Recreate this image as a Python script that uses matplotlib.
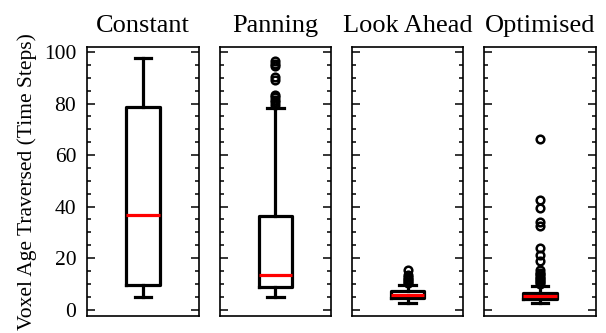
import numpy as np
import matplotlib.pyplot as plt
from matplotlib.ticker import MultipleLocator

plt.rcParams['font.family'] = ['Liberation Serif', 'DejaVu Serif']

# box summary per method: lower whisker, q1, median, q3, upper whisker
methods = ['Constant', 'Panning', 'Look Ahead', 'Optimised']
whis_lo = [5.0, 4.8, 2.7, 2.6]
q1 = [9.4, 8.6, 4.5, 4.1]
medians = [36.8, 13.6, 5.7, 5.2]
q3 = [78.6, 36.3, 7.1, 6.5]
whis_hi = [97.8, 78.4, 9.6, 9.3]

fliers = [
    [],
    [79.5, 80.5, 81.5, 82.5, 83.5, 89.0, 90.5, 94.5, 95.5, 96.5],
    [10.2, 10.8, 11.4, 12.0, 12.6, 13.5, 15.5],
    [10.0, 10.6, 11.2, 11.8, 12.4, 13.0, 13.7, 14.4, 15.5, 18.7,
     21.3, 23.9, 32.3, 34.2, 39.4, 42.6, 66.1],
]

fig, axes = plt.subplots(1, 4, figsize=(6.06, 3.33), dpi=100, sharey=True)
fig.subplots_adjust(left=0.144, right=0.983, bottom=0.051, top=0.859, wspace=0.19)

for i, ax in enumerate(axes):
    stats = [{
        'whislo': whis_lo[i], 'q1': q1[i], 'med': medians[i],
        'q3': q3[i], 'whishi': whis_hi[i], 'fliers': fliers[i],
    }]
    ax.bxp(stats, positions=[1], widths=0.3,
           boxprops=dict(color='black', linewidth=2.3),
           whiskerprops=dict(color='black', linewidth=2.3),
           capprops=dict(color='black', linewidth=2.3),
           medianprops=dict(color='red', linewidth=2.3),
           flierprops=dict(marker='o', markerfacecolor='none',
                           markeredgecolor='black', markersize=5.5,
                           markeredgewidth=1.8))
    ax.set_xlim(0.5, 1.5)
    ax.set_xticks([])
    ax.set_title(methods[i], fontsize=19, pad=11)
    ax.yaxis.set_major_locator(MultipleLocator(20))
    ax.yaxis.set_minor_locator(MultipleLocator(5))
    ax.tick_params(axis='y', which='both', direction='in', left=True, right=True,
                   labelsize=15.5, pad=8)
    ax.tick_params(axis='y', which='major', length=6, width=1.1)
    ax.tick_params(axis='y', which='minor', length=3, width=1.1)
    for s in ax.spines.values():
        s.set_linewidth(1.2)

axes[0].set_ylim(-2.5, 102)
axes[0].set_ylabel('Voxel Age Traversed (Time Steps)', fontsize=15.5, labelpad=5)

plt.savefig('out.png', dpi=100)
